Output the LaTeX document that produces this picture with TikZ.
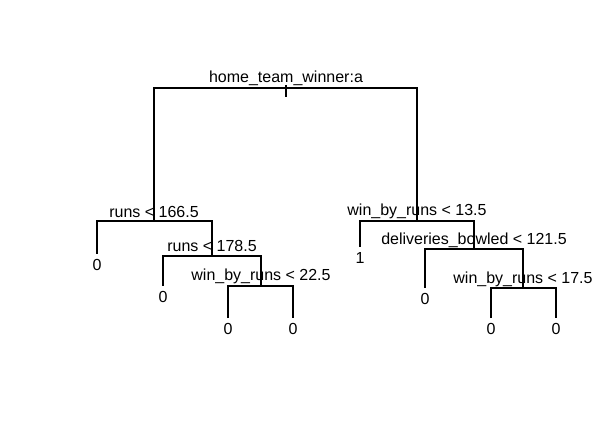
\documentclass[tikz,border=0pt]{standalone}
\usepackage{fontspec}
\setmainfont{Liberation Sans}
\begin{document}
\begin{tikzpicture}[x=1pt,y=-1pt,
  edge/.style={line width=1.4pt,line cap=butt},
  split/.style={anchor=base,inner sep=0pt,font=\fontsize{16}{19}\selectfont},
  leaflab/.style={anchor=base,inner sep=0pt,font=\fontsize{16}{19}\selectfont}]
\fill[white] (0,0) rectangle (615,427);
\useasboundingbox (0,0) rectangle (615,427);
% junction points
\coordinate (Rtop) at (286,85);
\coordinate (R) at (286,88);
\coordinate (Rbot) at (286,97);
\coordinate (A) at (154,221);
\coordinate (B) at (212,256);
\coordinate (C) at (261,286);
\coordinate (D) at (417,221);
\coordinate (E) at (474,249);
\coordinate (F) at (523,288);
% leaves
\coordinate (a1) at (97,254);
\coordinate (b1) at (163,286);
\coordinate (c1) at (228,318);
\coordinate (c2) at (293,318);
\coordinate (d1) at (360,247);
\coordinate (e1) at (425,288);
\coordinate (f1) at (491,318);
\coordinate (f2) at (556,318);
% split labels
\node[split] (lR) at (286,83) {home\_team\_winner:a};
\node[split] (lA) at (154,218) {runs < 166.5};
\node[split] (lB) at (212,251.5) {runs < 178.5};
\node[split] (lC) at (261,281) {win\_by\_runs < 22.5};
\node[split] (lD) at (417,216) {win\_by\_runs < 13.5};
\node[split] (lE) at (474,244.5) {deliveries\_bowled < 121.5};
\node[split] (lF) at (523,283.5) {win\_by\_runs < 17.5};
% leaf labels
\node[leaflab] (ta1) at (97,271) {0};
\node[leaflab] (tb1) at (163,302.5) {0};
\node[leaflab] (tc1) at (228,334.5) {0};
\node[leaflab] (tc2) at (293,334.5) {0};
\node[leaflab] (td1) at (360,264) {1};
\node[leaflab] (te1) at (425,304.5) {0};
\node[leaflab] (tf1) at (491,334.5) {0};
\node[leaflab] (tf2) at (556,334.5) {0};
% edges
\draw[edge] (Rtop) -- (Rbot);
\draw[edge] (A) |- (R) -| (D);
\draw[edge] (a1) |- (A) -| (B);
\draw[edge] (b1) |- (B) -| (C);
\draw[edge] (c1) |- (C) -| (c2);
\draw[edge] (d1) |- (D) -| (E);
\draw[edge] (e1) |- (E) -| (F);
\draw[edge] (f1) |- (F) -| (f2);
\end{tikzpicture}
\end{document}
